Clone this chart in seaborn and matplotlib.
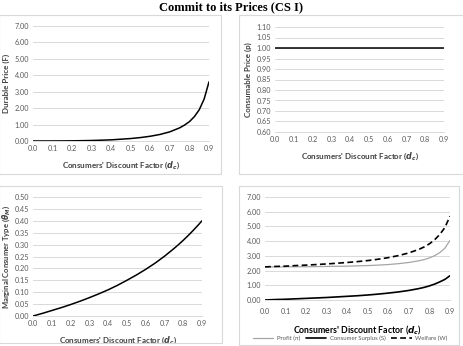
import numpy as np
import pandas as pd
import matplotlib
matplotlib.use("Agg")
import matplotlib.pyplot as plt
from matplotlib.patches import Rectangle
import seaborn as sns

# ---- data ----
d_c = [0.0, 0.05, 0.1, 0.15, 0.2, 0.25, 0.3, 0.35, 0.4, 0.45, 0.5, 0.55,
       0.6, 0.65, 0.7, 0.75, 0.775, 0.8, 0.825, 0.85, 0.875, 0.9]
durable_price = [0.0, 0.0, 0.002, 0.005, 0.01, 0.02, 0.03, 0.05, 0.07, 0.11,
                 0.15, 0.21, 0.29, 0.40, 0.56, 0.80, 0.97, 1.18, 1.48, 1.90,
                 2.55, 3.60]
consumable_price = [1.0] * len(d_c)
marginal_type = [0.0, 0.011, 0.023, 0.035, 0.048, 0.062, 0.077, 0.093, 0.110,
                 0.129, 0.150, 0.172, 0.196, 0.222, 0.251, 0.283, 0.300,
                 0.318, 0.337, 0.357, 0.378, 0.400]
profit = [2.25, 2.25, 2.25, 2.26, 2.26, 2.27, 2.28, 2.29, 2.30, 2.32, 2.34,
          2.37, 2.41, 2.47, 2.55, 2.67, 2.75, 2.86, 3.01, 3.22, 3.52, 4.05]
consumer_surplus = [0.0, 0.03, 0.05, 0.08, 0.11, 0.14, 0.17, 0.21, 0.25, 0.29,
                    0.34, 0.40, 0.47, 0.55, 0.65, 0.78, 0.86, 0.96, 1.08,
                    1.23, 1.40, 1.65]
welfare = [2.25, 2.28, 2.30, 2.34, 2.37, 2.41, 2.45, 2.50, 2.55, 2.61, 2.68,
           2.77, 2.88, 3.02, 3.20, 3.45, 3.61, 3.82, 4.09, 4.45, 4.92, 5.70]
x_ticks = [0.0, 0.1, 0.2, 0.3, 0.4, 0.5, 0.6, 0.7, 0.8, 0.9]
title = "Commit to its Prices (CS I)"

sns.set_theme(style="white")
plt.rcParams["font.family"] = ["Lato", "DejaVu Sans"]
plt.rcParams["mathtext.fontset"] = "dejavusans"

W, H = 464, 346
fig = plt.figure(figsize=(W / 100, H / 100), dpi=100)

def fx(px):
    return px / W

def fy(py):
    return 1 - py / H

# panel borders
for (x0, y0, x1, y1) in [(-1, 15, 221, 174), (239, 15, 465, 174),
                         (-1, 186, 222, 343), (239, 186, 459, 345)]:
    fig.add_artist(Rectangle((fx(x0), fy(y1)), fx(x1 - x0), (y1 - y0) / H,
                             transform=fig.transFigure, fill=False,
                             edgecolor="#d9d9d9", linewidth=0.8))

fig.text(0.497, fy(1), title, ha="center", va="top", fontsize=9,
         fontweight="bold", family="Liberation Serif", color="black")

def make_ax(l, r, t, b):
    return fig.add_axes([fx(l), fy(b), fx(r - l), (b - t) / H])

tick_col = "#595959"
lab_col = "#404040"
xlabel = r"Consumers' Discount Factor ($\mathbfit{d}_{\mathbfit{c}}$)"

def style(ax, yticks, fmt):
    ax.set_xlim(0, 0.9)
    ax.set_xticks(x_ticks)
    ax.set_xticklabels([f"{v:.1f}" for v in x_ticks])
    ax.set_yticks(yticks)
    ax.set_yticklabels([fmt.format(v) for v in yticks])
    ax.set_ylim(yticks[0], yticks[-1])
    ax.grid(axis="y", color="#d9d9d9", linewidth=0.7)
    ax.grid(axis="x", visible=False)
    for s in ["top", "right", "left"]:
        ax.spines[s].set_visible(False)
    ax.spines["bottom"].set_color("#d9d9d9")
    ax.spines["bottom"].set_linewidth(0.7)
    ax.tick_params(axis="both", labelsize=5.2, colors=tick_col, length=0, pad=3)
    ax.set_axisbelow(True)

df = pd.DataFrame({"d": d_c, "F": durable_price, "p": consumable_price,
                   "theta": marginal_type, "Profit": profit,
                   "CS": consumer_surplus, "W": welfare})

# Panel 1
ax1 = make_ax(33, 209, 26, 141)
sns.lineplot(data=df, x="d", y="F", ax=ax1, color="black", linewidth=1.1)
style(ax1, [0, 1, 2, 3, 4, 5, 6, 7], "{:.2f}")
ax1.set_ylabel("Durable Price (F)", fontsize=5.8, fontweight="bold", color=lab_col, labelpad=3)
ax1.set_xlabel(xlabel, fontsize=5.8, fontweight="bold", color=lab_col, labelpad=5)

# Panel 2
ax2 = make_ax(275, 444, 27, 132)
sns.lineplot(data=df, x="d", y="p", ax=ax2, color="black", linewidth=1.1)
style(ax2, [0.60, 0.65, 0.70, 0.75, 0.80, 0.85, 0.90, 0.95, 1.00, 1.05, 1.10], "{:.2f}")
ax2.set_ylabel("Consumable Price (p)", fontsize=5.8, fontweight="bold", color=lab_col, labelpad=3)
ax2.set_xlabel(xlabel, fontsize=5.8, fontweight="bold", color=lab_col, labelpad=5)

# Panel 3
ax3 = make_ax(33, 202, 197, 316)
sns.lineplot(data=df, x="d", y="theta", ax=ax3, color="black", linewidth=1.1)
style(ax3, [0.0, 0.05, 0.10, 0.15, 0.20, 0.25, 0.30, 0.35, 0.40, 0.45, 0.50], "{:.2f}")
ax3.set_ylabel(r"Marginal Consumer Type ($\mathbfit{\theta}_{\mathbfit{M}}$)", fontsize=5.5,
               fontweight="bold", color=lab_col, labelpad=2)
ax3.set_xlabel(xlabel, fontsize=5.8, fontweight="bold", color=lab_col, labelpad=5)

# Panel 4
ax4 = make_ax(265, 450, 197, 300)
long = pd.DataFrame({
    "d": d_c * 3,
    "value": profit + consumer_surplus + welfare,
    "series": ["Profit (π)"] * len(d_c) + ["Consumer Surplus (S)"] * len(d_c)
              + ["Welfare (W)"] * len(d_c),
})
sns.lineplot(data=long, x="d", y="value", hue="series", style="series", ax=ax4,
             palette={"Profit (π)": "#a6a6a6", "Consumer Surplus (S)": "black",
                      "Welfare (W)": "black"},
             dashes={"Profit (π)": "", "Consumer Surplus (S)": "",
                     "Welfare (W)": (3.5, 2)},
             size="series", sizes={"Profit (π)": 0.9, "Consumer Surplus (S)": 1.2,
                                   "Welfare (W)": 1.2})
style(ax4, [0, 1, 2, 3, 4, 5, 6, 7], "{:.2f}")
ax4.set_ylabel("")
ax4.tick_params(axis="x", pad=6)
ax4.set_xlabel(xlabel, fontsize=6.3, fontweight="bold", color="black", labelpad=6)
handles, labels = ax4.get_legend_handles_labels()
ax4.legend(handles, labels, loc="upper center", bbox_to_anchor=(0.46, -0.33),
           ncol=3, frameon=False, fontsize=4.3, handlelength=3.4, columnspacing=1.0,
           handletextpad=0.6, labelcolor=tick_col, borderaxespad=0, borderpad=0.2)

fig.savefig("out.png", dpi=100)
